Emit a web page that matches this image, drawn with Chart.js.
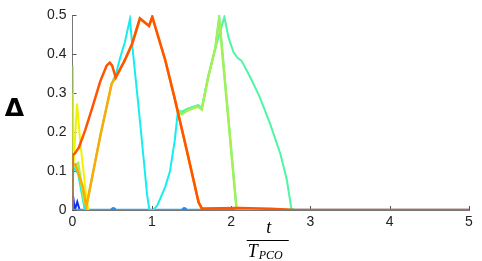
<!DOCTYPE html>
<html>
<head>
<meta charset="utf-8">
<script src="https://cdn.jsdelivr.net/npm/chart.js@4.4.1/dist/chart.umd.min.js"></script>
<style>
  html, body { margin: 0; padding: 0; background: #ffffff; }
  #wrap { width: 482px; height: 261px; }
</style>
</head>
<body>
<div id="wrap"><canvas id="deltaChart"></canvas></div>
<script>
// axis ticks
const xTicks = [0, 1, 2, 3, 4, 5];
const yTicks = [0, 0.1, 0.2, 0.3, 0.4, 0.5];

// orange-red curve
const redX = [0, 0, 0.03, 0.08, 0.16, 0.24, 0.35, 0.43, 0.47, 0.5, 0.545, 0.65, 0.75, 0.85, 0.965, 1.006, 1.17, 1.29, 1.44, 1.59, 1.63, 2.1, 2.5, 2.8, 5];
const redY = [0, 0.14, 0.145, 0.16, 0.205, 0.256, 0.33, 0.37, 0.378, 0.37, 0.34, 0.38, 0.425, 0.491, 0.472, 0.495, 0.384, 0.285, 0.154, 0.02, 0.004, 0.005, 0.003, 0, 0];

// gold curve
const goldX = [0.03, 0.08, 0.13, 0.174, 0.35, 0.494, 0.545, 0.65, 0.75, 0.85, 0.965, 1.006, 1.17, 1.29, 1.44, 1.59, 1.63];
const goldY = [0.12, 0.09, 0.06, 0.008, 0.19, 0.324, 0.34, 0.38, 0.425, 0.491, 0.472, 0.495, 0.384, 0.285, 0.154, 0.02, 0.004];

// yellow-green curve (null = gap)
const limeX = [0, 0.01, 0.07, 0.15, 0.2, 0.21, 1.33, 1.377, 1.45, 1.55, 1.587, 1.63, 1.71, 1.8, 1.85, 2.07, 2.75];
const limeY = [0.37, 0.11, 0.12, 0.02, 0, null, 0.256, 0.245, 0.255, 0.263, 0.265, 0.258, 0.34, 0.414, 0.49, 0, 0];

// spring-green curve
const springX = [1.33, 1.377, 1.45, 1.587, 1.63, 1.71, 1.8, 1.915, 1.97, 2.03, 2.08, 2.13, 2.24, 2.36, 2.49, 2.62, 2.7, 2.76, 2.8];
const springY = [0.256, 0.252, 0.26, 0.269, 0.26, 0.341, 0.414, 0.495, 0.44, 0.405, 0.39, 0.383, 0.341, 0.29, 0.222, 0.145, 0.08, 0.004, 0];

// yellow curve
const yellowX = [0, 0.01, 0.02, 0.057, 0.1, 0.174, 0.2];
const yellowY = [0.3, 0.15, 0.14, 0.273, 0.17, 0.034, 0];

// cyan curve
const cyanX = [0, 0.01, 0.07, 0.155, 0.174, 0.35, 0.494, 0.55, 0.6, 0.66, 0.725, 0.75, 0.8, 0.85, 0.9, 0.94, 0.97, 1.02, 1.07, 1.1, 1.17, 1.23, 1.29, 1.33, 1.377, 1.45, 1.587, 1.63, 1.71, 1.8, 1.85, 2.07, 2.1];
const cyanY = [0, 0.11, 0.094, 0, 0.008, 0.19, 0.324, 0.35, 0.39, 0.43, 0.49, 0.43, 0.33, 0.23, 0.125, 0.04, 0, 0, 0.012, 0.026, 0.06, 0.1, 0.179, 0.256, 0.25, 0.258, 0.268, 0.26, 0.34, 0.414, 0.495, 0, 0];

// light blue flat curve and its markers
const skyX = [0, 5];
const skyY = [0, 0];
const markX = [0.515, 1.41, 2.13];
const markY = [0, 0, 0];

// dark blue curve
const blueX = [0, 0, 0.03, 0.06, 0.09, 0.12];
const blueY = [0, 0.047, 0, 0.021, 0, 0];

function pts(xs, ys) {
    return xs.map((x, i) => ({ x: x, y: ys[i] }));
}

function line(data, color, width) {
    return {
        data: data,
        borderColor: color,
        backgroundColor: color,
        borderWidth: width,
        pointRadius: 0,
        tension: 0,
        spanGaps: false
    };
}

// ticks inside the axes + Δ and t / T_PCO labels
const decor = {
    id: 'decor',
    beforeDatasetsDraw(chart) {
        const c = chart.ctx;
        const xs = chart.scales.x, ys = chart.scales.y;
        const a = chart.chartArea;
        c.save();
        c.strokeStyle = '#555';
        c.lineWidth = 1;
        yTicks.forEach(v => {
            const py = Math.round(ys.getPixelForValue(v)) + 0.5;
            c.beginPath(); c.moveTo(a.left, py); c.lineTo(a.left + 4, py); c.stroke();
        });
        xTicks.forEach(v => {
            const px = Math.round(xs.getPixelForValue(v)) + 0.5;
            c.beginPath(); c.moveTo(px, a.bottom); c.lineTo(px, a.bottom - 4); c.stroke();
        });
        c.restore();
    },
    afterDraw(chart) {
        const c = chart.ctx;
        const a = chart.chartArea;
        c.save();
        c.fillStyle = '#000';
        c.font = 'bold 25px "DejaVu Sans"';
        c.textAlign = 'center';
        c.textBaseline = 'alphabetic';
        c.fillText('\u0394', a.left - 58, (a.top + a.bottom) / 2 + 3);

        const cx = (a.left + a.right) / 2 - 3;
        c.font = 'italic 18px "Liberation Serif"';
        c.fillText('t', cx + 1, 233);
        c.fillRect(cx - 21, 240, 42, 1);
        c.textAlign = 'left';
        c.fillText('T', cx - 20, 257);
        c.font = 'italic 12px "Liberation Serif"';
        c.fillText('PCO', cx - 9, 259);
        c.restore();
    }
};

const ctx = document.getElementById('deltaChart').getContext('2d');

new Chart(ctx, {
    type: 'line',
    data: {
        datasets: [
            line(pts(redX, redY), '#ff5500', 2.5),
            line(pts(goldX, goldY), '#ffaa00', 2.5),
            line(pts(yellowX, yellowY), '#f2f200', 2),
            line(pts(limeX, limeY), '#a6f052', 2.5),
            line(pts(springX, springY), '#50f5a5', 2),
            {
                data: pts(markX, markY),
                showLine: false,
                pointRadius: 2.5,
                pointBorderWidth: 1,
                pointBorderColor: '#1e90f0',
                pointBackgroundColor: '#1e90f0'
            },
            line(pts(cyanX, cyanY), '#14eef0', 2),
            line(pts(skyX, skyY), '#28a8f8', 2.5),
            line(pts(blueX, blueY), '#1030f0', 2)
        ]
    },
    options: {
        responsive: true,
        maintainAspectRatio: false,
        animation: false,
        events: [],
        layout: { padding: { left: 0, right: 13, top: 15, bottom: 0 } },
        plugins: {
            legend: { display: false },
            tooltip: { enabled: false }
        },
        scales: {
            x: {
                type: 'linear',
                min: 0,
                max: 5,
                afterFit: s => { s.height = 51; },
                afterBuildTicks: s => { s.ticks = xTicks.map(v => ({ value: v })); },
                grid: { display: false, drawTicks: false },
                border: { display: true, color: '#777', width: 1 },
                ticks: { color: '#222', padding: 4, font: { family: "'Liberation Sans', sans-serif", size: 14 } }
            },
            y: {
                type: 'linear',
                min: 0,
                max: 0.5,
                afterFit: s => { s.width = 72.5; },
                afterBuildTicks: s => { s.ticks = yTicks.map(v => ({ value: v })); },
                grid: { display: false, drawTicks: false },
                border: { display: true, color: '#777', width: 1 },
                ticks: { color: '#222', padding: 6, font: { family: "'Liberation Sans', sans-serif", size: 14 } }
            }
        }
    },
    plugins: [decor]
});
</script>
</body>
</html>
